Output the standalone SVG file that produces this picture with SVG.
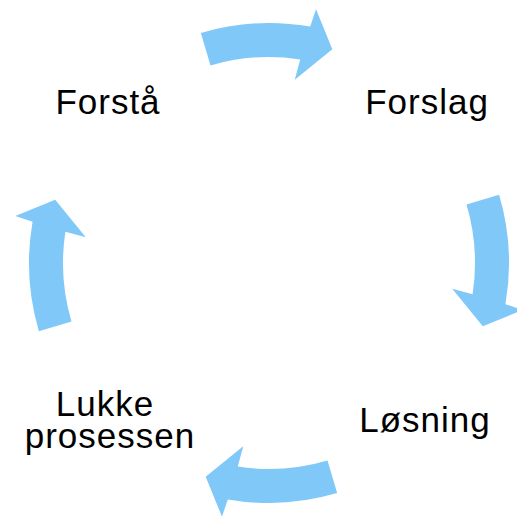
<svg xmlns="http://www.w3.org/2000/svg" width="517" height="516" viewBox="0 0 517 516">
<style>
.arrow{fill:#7fc8f8;stroke:none}
.lbl{font-family:"Liberation Sans",Arial,sans-serif;font-size:35px;fill:#000;text-anchor:middle;letter-spacing:1px}
</style>
<defs>
<path id="arc" d="M200.84,32.89 A240,240 0 0 1 310.18,26.56 L316.02,9.32 L332.33,49.19 L294.75,79.8 L300.23,59.38 A206,206 0 0 0 210.5,65.49 Z"/>
</defs>
<rect width="517" height="516" fill="#fff"/>
<g id="connectors">
<use href="#arc" class="arrow"/>
<use href="#arc" class="arrow" transform="rotate(90 269 263)"/>
<use href="#arc" class="arrow" transform="rotate(180 269 263)"/>
<use href="#arc" class="arrow" transform="rotate(270 269 263)"/>
</g>
<g id="forsta"><text class="lbl" x="108" y="114">Forstå</text></g>
<g id="forslag"><text class="lbl" x="427" y="114">Forslag</text></g>
<g id="losning"><text class="lbl" x="425" y="432">Løsning</text></g>
<g id="lukke"><text class="lbl" x="105" y="416">Lukke</text><text class="lbl" x="110" y="448">prosessen</text></g>
</svg>
